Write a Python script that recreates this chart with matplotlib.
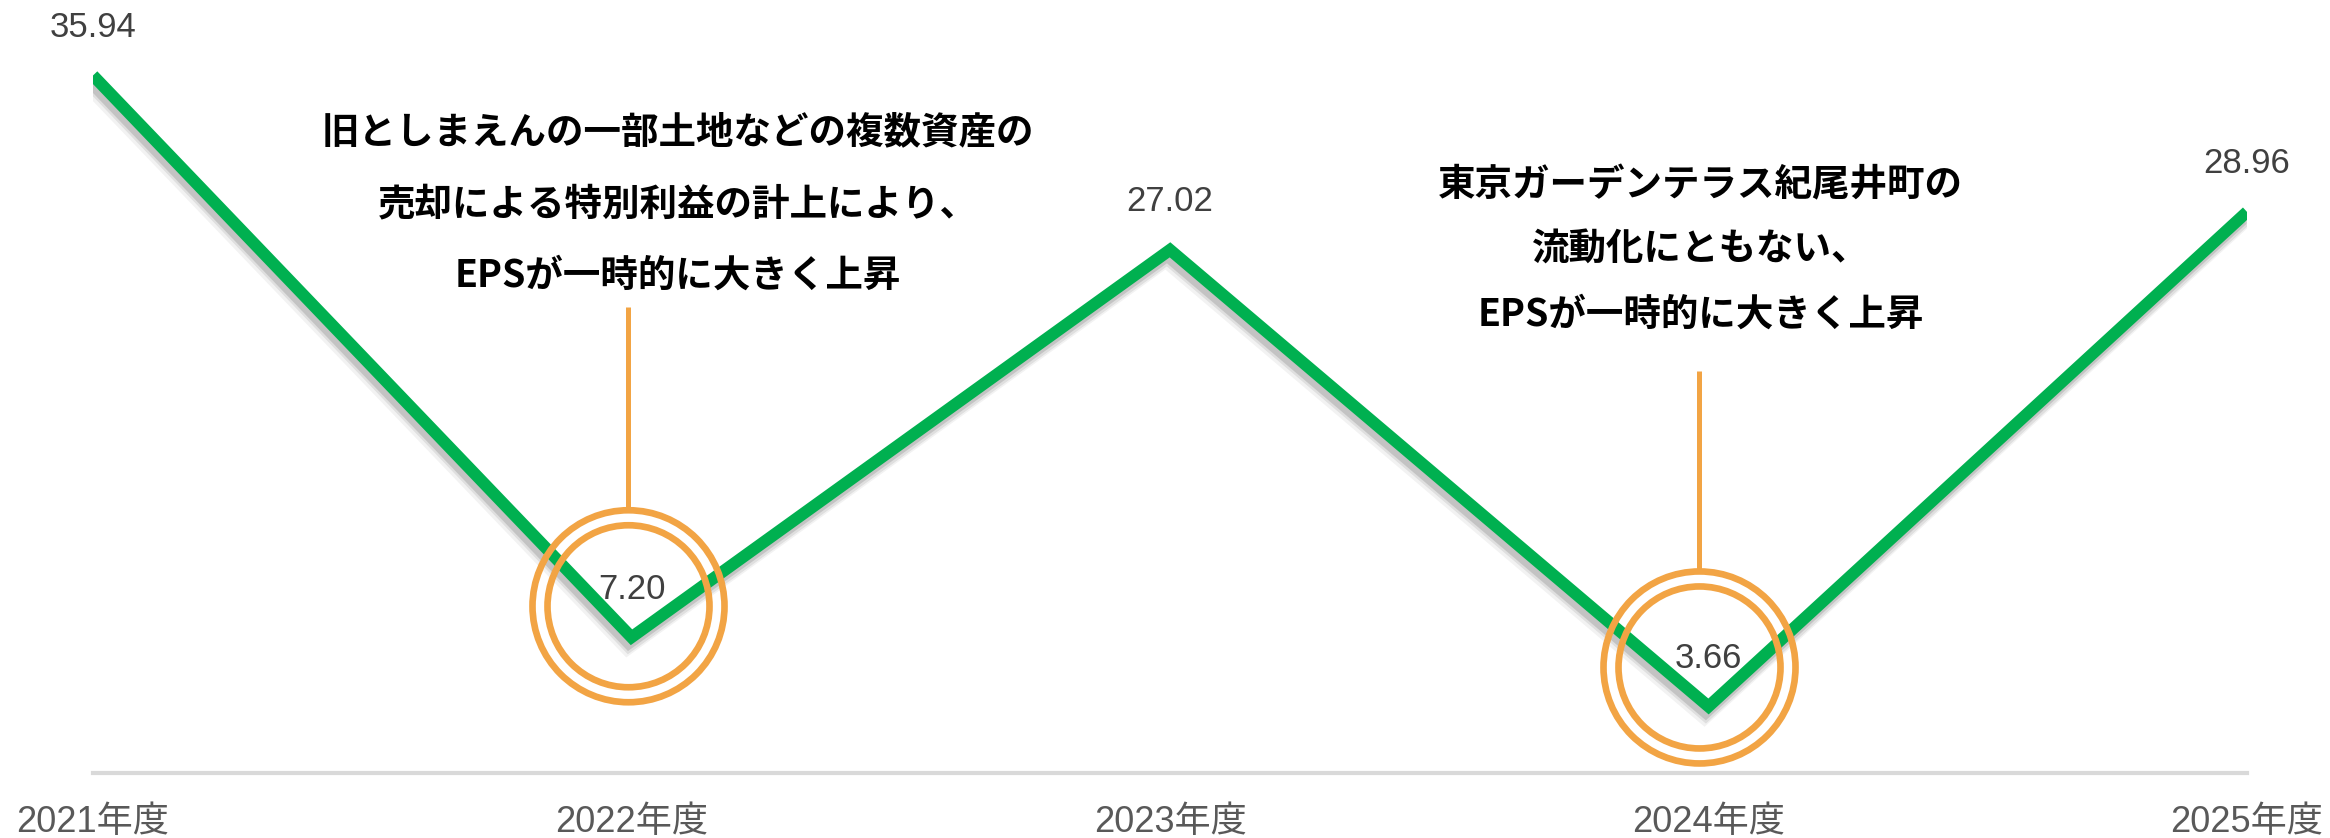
import matplotlib
matplotlib.use("Agg")
import matplotlib.pyplot as plt
import matplotlib.patheffects as pe
from matplotlib.lines import Line2D
from matplotlib.patches import Circle

# ---- data ----
categories = ["2021年度", "2022年度", "2023年度", "2024年度", "2025年度"]
eps_values = [35.94, 7.20, 27.02, 3.66, 28.96]
value_labels = ["35.94", "7.20", "27.02", "3.66", "28.96"]

note1_lines = ["旧としまえんの一部土地などの複数資産の",
               "売却による特別利益の計上により、",
               "EPSが一時的に大きく上昇"]
note2_lines = ["東京ガーデンテラス紀尾井町の",
               "流動化にともない、",
               "EPSが一時的に大きく上昇"]
note1_index = 1
note2_index = 3

# ---- style ----
GREEN = "#00B050"
ORANGE = "#F2A444"
AXIS_GREY = "#D9D9D9"
LABEL_COLOR = "#404040"
TICK_COLOR = "#595959"
NUM_FONT = ["Liberation Sans", "Noto Sans CJK JP"]
JP_BOLD = ["Noto Sans CJK JP", "DejaVu Sans"]

W, H = 2330, 838
fig = plt.figure(figsize=(W / 100, H / 100), dpi=100)
ax = fig.add_axes([93 / W, 60 / H, (2247 - 93) / W, 778 / H])
ax.set_xlim(0, len(categories) - 1)
ax.set_ylim(0, 39.8)

x = list(range(len(categories)))
shadow = [
    pe.SimpleLineShadow(offset=(-3, -6), shadow_color="black", alpha=0.05, linewidth=13),
    pe.SimpleLineShadow(offset=(-2, -5), shadow_color="black", alpha=0.08, linewidth=11),
    pe.SimpleLineShadow(offset=(-2, -4), shadow_color="black", alpha=0.12, linewidth=9),
    pe.Normal(),
]
ax.plot(x, eps_values, color=GREEN, lw=8.6, solid_joinstyle="miter",
        solid_capstyle="butt", zorder=3, path_effects=shadow)

# value labels
for xi, v, lab in zip(x, eps_values, value_labels):
    ax.annotate(lab, (xi, v), xytext=(0, 48), textcoords="offset pixels",
                ha="center", va="center", fontsize=25, color=LABEL_COLOR,
                family=NUM_FONT, zorder=5, annotation_clip=False)

# axes styling
for s in ["left", "right", "top"]:
    ax.spines[s].set_visible(False)
ax.spines["bottom"].set_position(("data", 0.27))
ax.spines["bottom"].set_color(AXIS_GREY)
ax.spines["bottom"].set_linewidth(3)
ax.set_yticks([])
ax.set_xticks(x)
ax.set_xticklabels(categories, fontsize=26, color=TICK_COLOR, family=NUM_FONT)
ax.tick_params(axis="x", which="major", length=0, pad=23)
ax.set_xticks([0], minor=True)
ax.tick_params(axis="x", which="minor", length=9, width=3, color=AXIS_GREY, direction="out")


def px(xi, v):
    return ax.transData.transform((xi, v))


def callout(idx, circ_dx, circ_dy, line_top):
    cx, cy = px(idx, eps_values[idx])
    ccx, ccy = cx + circ_dx, cy + circ_dy
    for r in (96, 81):
        fig.add_artist(Circle((ccx, ccy), r, transform=None, fill=False,
                              ec=ORANGE, lw=4.8, zorder=6))
    fig.add_artist(Line2D([ccx - 1, ccx - 1], [ccy + 96, cy + line_top], transform=None,
                          color=ORANGE, lw=3.6, solid_capstyle="butt", zorder=6))


# note 1
callout(note1_index, -3, 31, 330)
for line, dy in zip(note1_lines, [506, 433, 362]):
    ax.annotate(line, (note1_index, eps_values[note1_index]), xytext=(46, dy),
                textcoords="offset pixels", ha="center", va="center",
                fontsize=27, fontweight="bold", family=JP_BOLD, color="black",
                annotation_clip=False)

# note 2
callout(note2_index, -9, 39, 335)
for line, dy in zip(note2_lines, [522, 457, 392]):
    ax.annotate(line, (note2_index, eps_values[note2_index]), xytext=(-8, dy),
                textcoords="offset pixels", ha="center", va="center",
                fontsize=27, fontweight="bold", family=JP_BOLD, color="black",
                annotation_clip=False)

fig.savefig("out.png", dpi=100, facecolor="white")
